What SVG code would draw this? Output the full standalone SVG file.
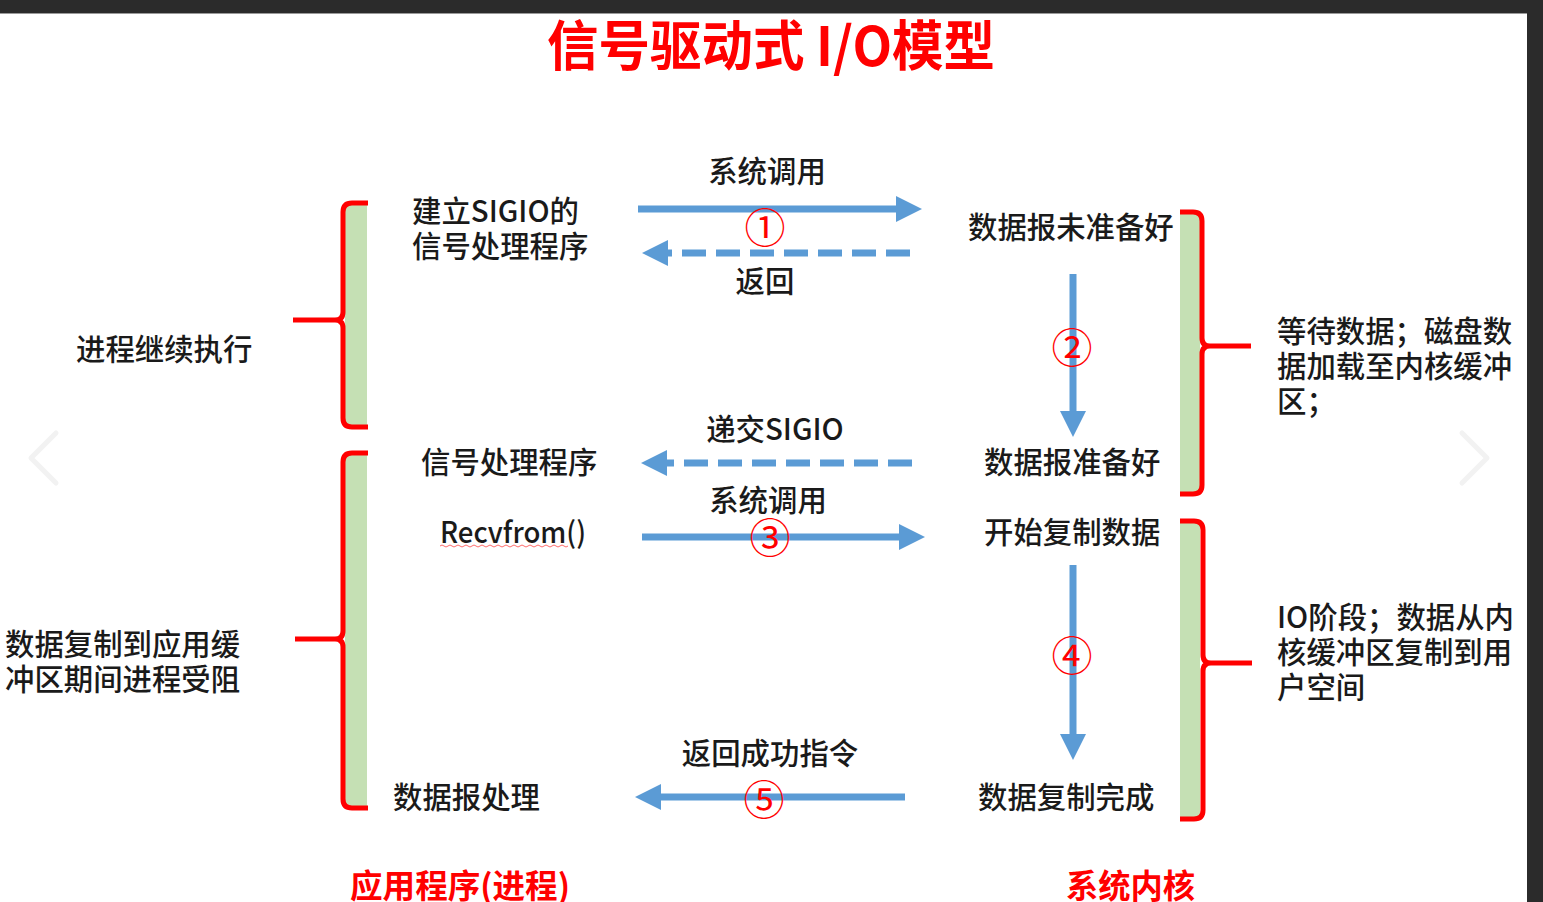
<svg xmlns="http://www.w3.org/2000/svg" width="1543" height="902" viewBox="0 0 1543 902">
<style>
.t{font-family:"Noto Sans CJK SC","Liberation Sans",sans-serif;font-size:29.4px;font-weight:500;fill:#1a1a1a}
.r{font-family:"Noto Sans CJK SC","Liberation Sans",sans-serif;fill:#ff0000;font-weight:bold}
.n{font-family:"Noto Sans CJK SC","Liberation Sans",sans-serif;fill:#ff0000;font-size:41px;text-anchor:middle}
.br{fill:none;stroke:#ff0000;stroke-width:5;stroke-linejoin:round}
.gr{fill:#c5e0b4}
.ar{stroke:#5b9bd5;stroke-width:7;fill:none}
.da{stroke:#5b9bd5;stroke-width:7;fill:none;stroke-dasharray:24 10}
.nav{fill:none;stroke:#f2f2f2;stroke-width:5;stroke-linecap:round;stroke-linejoin:round}
</style>
<defs>
<marker id="ah" markerUnits="userSpaceOnUse" markerWidth="28" markerHeight="26" refX="1" refY="13" orient="auto">
<path d="M0,0 L26,13 L0,26 z" fill="#5b9bd5"/>
</marker>
</defs>
<rect x="0" y="0" width="1543" height="902" fill="#ffffff"/>
<rect x="0" y="0" width="1543" height="13" fill="#2b2b2b"/>
<rect x="0" y="13" width="1527" height="1" fill="#9a9a9a"/>
<rect x="1527" y="0" width="16" height="902" fill="#2b2b2b"/>

<g id="nav">
<path class="nav" d="M56,433 L31,458 L56,483"/>
<path class="nav" d="M1462,433 L1487,458 L1462,483"/>
</g>

<g id="title">
<text class="r" x="547" y="66" font-size="54" textLength="448" lengthAdjust="spacingAndGlyphs">信号驱动式 I/O模型</text>
</g>

<g id="bracket-left-top">
<rect class="gr" x="345" y="205" width="22" height="221"/>
<path class="br" d="M368,203 L352,203 Q343,203 343,212 L343,312 Q343,320 335,320 L293,320 M335,320 Q343,320 343,328 L343,418 Q343,427 352,427 L368,427"/>
</g>
<g id="bracket-left-bottom">
<rect class="gr" x="345" y="455" width="22" height="352"/>
<path class="br" d="M368,453 L352,453 Q343,453 343,462 L343,631 Q343,639 335,639 L295,639 M335,639 Q343,639 343,647 L343,799 Q343,808 352,808 L368,808"/>
</g>
<g id="bracket-right-top">
<rect class="gr" x="1180" y="214" width="20" height="280"/>
<path class="br" d="M1180,212 L1193,212 Q1202,212 1202,221 L1202,338 Q1202,346 1210,346 L1251,346 M1210,346 Q1202,346 1202,354 L1202,485 Q1202,494 1193,494 L1180,494"/>
</g>
<g id="bracket-right-bottom">
<rect class="gr" x="1180" y="523" width="20" height="296"/>
<path class="br" d="M1180,521 L1194,521 Q1203,521 1203,530 L1203,655 Q1203,663 1211,663 L1252,663 M1211,663 Q1203,663 1203,671 L1203,810 Q1203,819 1194,819 L1180,819"/>
</g>

<g id="connectors">
<path class="ar" d="M638,209 L897,209" marker-end="url(#ah)"/>
<path class="da" d="M910,253 L667,253" marker-end="url(#ah)"/>
<path class="ar" d="M1073,274 L1073,412" marker-end="url(#ah)"/>
<path class="da" d="M912,463 L666,463" marker-end="url(#ah)"/>
<path class="ar" d="M642,537 L900,537" marker-end="url(#ah)"/>
<path class="ar" d="M1073,565 L1073,735" marker-end="url(#ah)"/>
<path class="ar" d="M905,797 L660,797" marker-end="url(#ah)"/>
</g>

<g id="labels-connectors">
<text class="t" x="767" y="182" text-anchor="middle">系统调用</text>
<text class="n" x="765" y="243">①</text>
<text class="t" x="765" y="292" text-anchor="middle">返回</text>
<text class="n" x="1072" y="363">②</text>
<text class="t" x="775" y="440" text-anchor="middle">递交SIGIO</text>
<text class="t" x="768" y="511" text-anchor="middle">系统调用</text>
<text class="n" x="770" y="553">③</text>
<text class="n" x="1072" y="671">④</text>
<text class="t" x="770" y="764" text-anchor="middle">返回成功指令</text>
<text class="n" x="764" y="815">⑤</text>
</g>

<g id="node-setup">
<text class="t" x="412" y="222">建立SIGIO的</text>
<text class="t" x="412" y="257">信号处理程序</text>
</g>
<g id="node-not-ready">
<text class="t" x="968" y="238">数据报未准备好</text>
</g>
<g id="node-continue">
<text class="t" x="76" y="360">进程继续执行</text>
</g>
<g id="node-wait">
<text class="t" x="1277" y="342">等待数据；磁盘数</text>
<text class="t" x="1277" y="377">据加载至内核缓冲</text>
<text class="t" x="1277" y="412">区；</text>
</g>
<g id="node-handler">
<text class="t" x="421" y="473">信号处理程序</text>
</g>
<g id="node-ready">
<text class="t" x="984" y="473">数据报准备好</text>
</g>
<g id="node-recvfrom">
<text class="t" x="440" y="543" textLength="146" lengthAdjust="spacingAndGlyphs">Recvfrom()</text>
<path d="M440,546 q2,-2 4,0 t4,0 t4,0 t4,0 t4,0 t4,0 t4,0 t4,0 t4,0 t4,0 t4,0 t4,0 t4,0 t4,0 t4,0 t4,0 t4,0 t4,0 t4,0 t4,0 t4,0 t4,0 t4,0 t4,0 t4,0 t4,0 t4,0 t4,0 t4,0 t4,0 t4,0 t4,0" fill="none" stroke="#ff6b6b" stroke-width="1"/>
</g>
<g id="node-copy-start">
<text class="t" x="984" y="543">开始复制数据</text>
</g>
<g id="node-blocked">
<text class="t" x="5" y="655">数据复制到应用缓</text>
<text class="t" x="5" y="690">冲区期间进程受阻</text>
</g>
<g id="node-io">
<text class="t" x="1277" y="628">IO阶段；数据从内</text>
<text class="t" x="1277" y="663">核缓冲区复制到用</text>
<text class="t" x="1277" y="698">户空间</text>
</g>
<g id="node-process">
<text class="t" x="393" y="808">数据报处理</text>
</g>
<g id="node-copy-done">
<text class="t" x="978" y="808">数据复制完成</text>
</g>
<g id="footer">
<text class="r" x="350" y="898" font-size="33" textLength="220" lengthAdjust="spacingAndGlyphs">应用程序(进程)</text>
<text class="r" x="1066" y="898" font-size="33" textLength="129" lengthAdjust="spacingAndGlyphs">系统内核</text>
</g>
</svg>
